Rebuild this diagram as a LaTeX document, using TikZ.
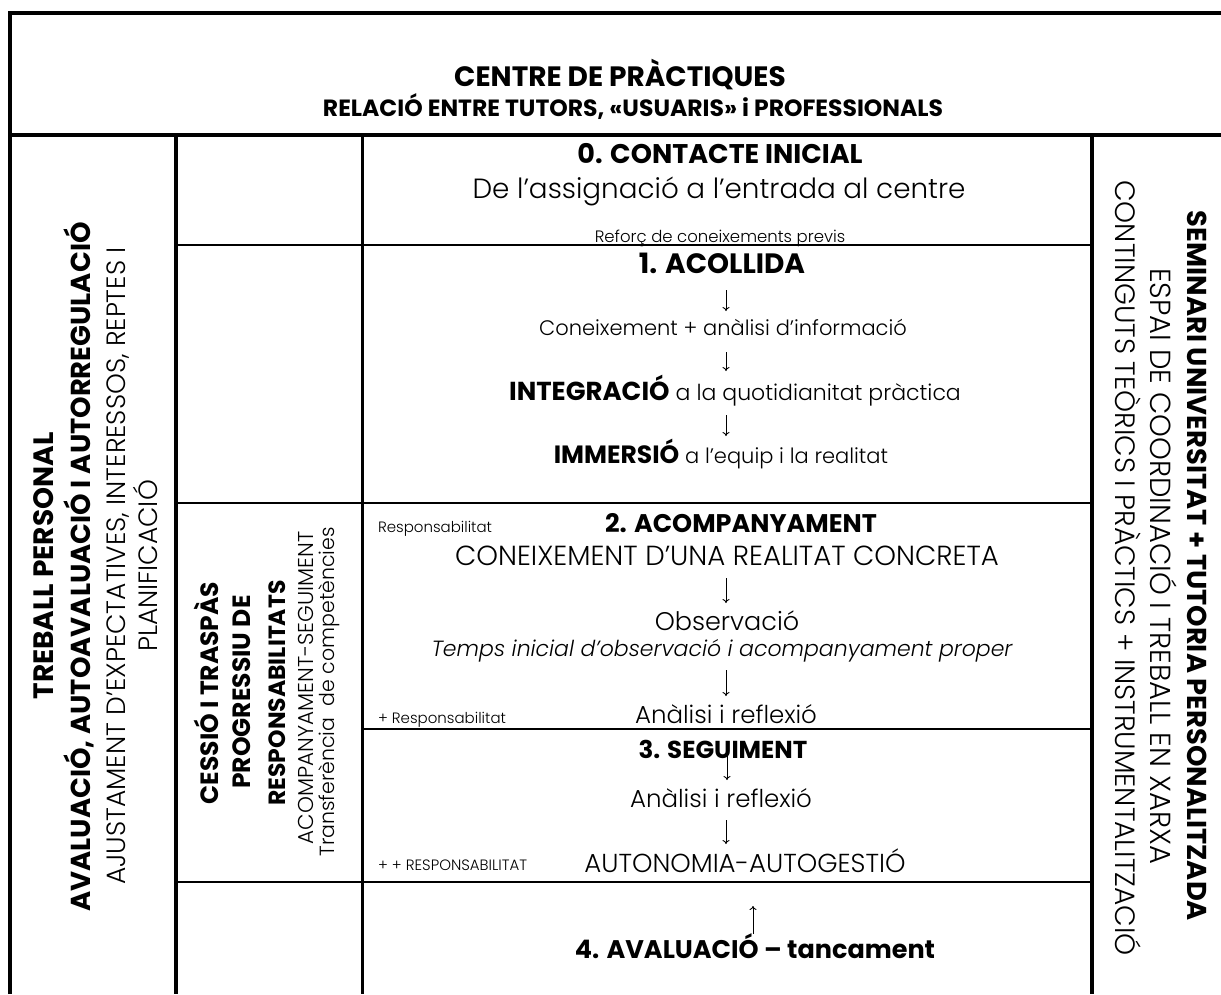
\documentclass[tikz,border=0pt]{standalone}
\usepackage{fontspec}
\setmainfont{Poppins}[UprightFont=* Light, ItalicFont=* Light Italic, BoldFont=* Bold, BoldItalicFont=* Bold Italic]
\usetikzlibrary{arrows.meta}
\newcommand\fsz[1]{\fontsize{#1}{#1}\selectfont}
\tikzset{
  frame/.style={line width=4pt, line join=miter},
  colrule/.style={line width=3pt},
  rowrule/.style={line width=2.5pt},
  txt/.style={anchor=base, inner sep=0pt, outer sep=0pt},
  lefttxt/.style={anchor=base west, inner sep=0pt, outer sep=0pt},
  rotl/.style={rotate=90, anchor=base, inner sep=0pt, outer sep=0pt},
  rotr/.style={rotate=-90, anchor=base, inner sep=0pt, outer sep=0pt},
  flow/.style={line width=0.9pt, -{To[length=4pt,width=7pt]}},
  small/.style={font=\fsz{15}},
}
\begin{document}
\begin{tikzpicture}[x=1pt,y=-1pt]
\useasboundingbox (0,0) rectangle (1221,994);
% table lines
\draw[frame] (10,994) -- (10,13) -- (1221,13);
\draw[frame] (8,135) -- (1221,135);
\draw[frame] (176,135) -- (176,994);
\draw[colrule] (362,135) -- (362,994);
\draw[frame] (1092,135) -- (1092,994);
\draw[rowrule] (176,245) -- (1092,245);
\draw[rowrule] (176,503) -- (1092,503);
\draw[rowrule] (362,729) -- (1092,729);
\draw[rowrule] (176,882) -- (1092,882);
% header
\node[txt, font=\bfseries\fsz{28}] (title) at (620,86) {CENTRE DE PRÀCTIQUES};
\node[txt, font=\bfseries\fsz{23.5}] (subtitle) at (633,116) {RELACIÓ ENTRE TUTORS, «USUARIS» i PROFESSIONALS};
% row 0
\node[txt, font=\bfseries\fsz{27}] (c0) at (720,163) {0. CONTACTE INICIAL};
\node[txt, font=\fsz{27.8}] (c0b) at (719,198) {De l’assignació a l’entrada al centre};
\node[txt, font=\fsz{16.5}] (c0c) at (720,242) {Reforç de coneixements previs};
% row 1
\node[txt, font=\bfseries\fsz{28}] (c1) at (722,273) {1. ACOLLIDA};
\node[txt, font=\fsz{21}] (c1b) at (723,335) {Coneixement + anàlisi d’informació};
\node[txt, font=\fsz{22}] (c1c) at (735,400) {{\bfseries\fsz{26}INTEGRACIÓ} a la quotidianitat pràctica};
\node[txt, font=\fsz{21}] (c1d) at (721,463) {{\bfseries\fsz{25}IMMERSIÓ} a l’equip i la realitat};
% row 2
\node[lefttxt, small] (r1) at (378,532) {Responsabilitat};
\node[txt, font=\bfseries\fsz{25.5}] (c2) at (741,532) {2. ACOMPANYAMENT};
\node[txt, font=\fsz{27.6}] (c2b) at (727,565) {CONEIXEMENT D’UNA REALITAT CONCRETA};
\node[txt, font=\fsz{25.5}] (c2c) at (727,630) {Observació};
\node[txt, font=\itshape\fsz{22}] (c2d) at (722,656) {Temps inicial d’observació i acompanyament proper};
\node[lefttxt, small] (r2) at (378,723) {+ Responsabilitat};
\node[txt, font=\fsz{24.5}] (c2e) at (726,723) {Anàlisi i reflexió};
% row 3
\node[txt, font=\bfseries\fsz{24.5}] (c3) at (723,758) {3. SEGUIMENT};
\node[txt, font=\fsz{24.5}] (c3b) at (721,807) {Anàlisi i reflexió};
\node[lefttxt, small] (r3) at (378,870) {+ + RESPONSABILITAT};
\node[txt, font=\fsz{26}] (c3c) at (745,872) {AUTONOMIA-AUTOGESTIÓ};
% row 4
\node[txt, font=\bfseries\fsz{25.5}] (c4) at (755,958) {4. AVALUACIÓ – tancament};
% arrows
\coordinate (a1s) at (726,290); \coordinate (a1e) at (726,311);
\coordinate (a2s) at (726,352); \coordinate (a2e) at (726,371);
\coordinate (a3s) at (726,415); \coordinate (a3e) at (726,436);
\coordinate (a4s) at (726,578); \coordinate (a4e) at (726,603);
\coordinate (a5s) at (726,670); \coordinate (a5e) at (726,696);
\coordinate (a6s) at (727,752); \coordinate (a6e) at (727,780);
\coordinate (a7s) at (726,820); \coordinate (a7e) at (726,844);
\coordinate (a8s) at (753,934); \coordinate (a8e) at (753,906);
\foreach \i in {1,...,8} \draw[flow] (a\i s) -- (a\i e);
% left column
\node[rotl, font=\bfseries\fsz{28}] (lt1) at (53,566) {TREBALL PERSONAL};
\node[rotl, font=\bfseries\fsz{27.4}] (lt2) at (90,567) {AVALUACIÓ, AUTOAVALUACIÓ I AUTORREGULACIÓ};
\node[rotl, font=\fsz{26.5}] (lt3) at (125,566) {AJUSTAMENT D’EXPECTATIVES, INTERESSOS, REPTES I};
\node[rotl, font=\fsz{26.5}] (lt4) at (157,566) {PLANIFICACIÓ};
% second column
\node[rotl, font=\bfseries\fsz{25}] (m1) at (218,693) {CESSIÓ I TRASPÀS};
\node[rotl, font=\bfseries\fsz{25}] (m2) at (250,692) {PROGRESSIU DE};
\node[rotl, font=\bfseries\fsz{23.5}] (m3) at (285,693) {RESPONSABILITATS};
\node[rotl, font=\fsz{21.5}] (m4) at (313,688) {ACOMPANYAMENT-SEGUIMENT};
\node[rotl, font=\fsz{20.5}] (m5) at (334,692) {Transferència\ \ de competències};
% right column
\node[rotr, font=\bfseries\fsz{27.3}] (rt1) at (1187,566) {SEMINARI UNIVERSITAT + TUTORIA PERSONALITZADA};
\node[rotr, font=\fsz{29}] (rt2) at (1150,566) {ESPAI DE COORDINACIÓ I TREBALL EN XARXA};
\node[rotr, font=\fsz{28}] (rt3) at (1115,568) {CONTINGUTS TEÒRICS I PRÀCTICS + INSTRUMENTALITZACIÓ};
\end{tikzpicture}
\end{document}
